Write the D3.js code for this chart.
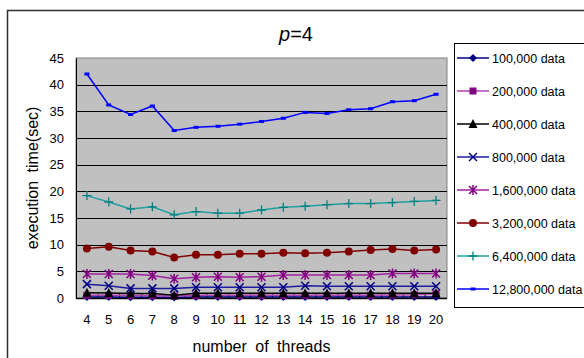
<!DOCTYPE html>
<html>
<head>
<meta charset="utf-8">
<script src="https://cdn.jsdelivr.net/npm/d3@7"></script>
<style>
  body { margin: 0; background: #fff; }
  svg { display: block; font-family: "Liberation Sans", Arial, sans-serif; }
</style>
</head>
<body>
<svg id="chart" width="584" height="358"></svg>
<script>
// thread counts on the x axis
const threads = [4, 5, 6, 7, 8, 9, 10, 11, 12, 13, 14, 15, 16, 17, 18, 19, 20];
const yTicks = [0, 5, 10, 15, 20, 25, 30, 35, 40, 45];

const seriesNames = ["100,000 data", "200,000 data", "400,000 data", "800,000 data",
  "1,600,000 data", "3,200,000 data", "6,400,000 data", "12,800,000 data"];

// execution times (sec)
const d100k = [0.2, 0.2, 0.15, 0.15, 0.1, 0.2, 0.2, 0.2, 0.2, 0.2, 0.2, 0.2, 0.2, 0.2, 0.2, 0.2, 0.2];
const d200k = [0.5, 0.5, 0.45, 0.45, 0.35, 0.5, 0.5, 0.5, 0.5, 0.5, 0.5, 0.5, 0.5, 0.5, 0.55, 0.6, 0.8];
const d400k = [1.0, 0.95, 0.85, 0.85, 0.5, 0.9, 0.9, 0.9, 0.9, 0.9, 0.9, 0.9, 0.9, 0.9, 0.9, 0.9, 0.9];
const d800k = [2.6, 2.3, 1.8, 1.8, 1.8, 2.0, 2.0, 2.0, 2.0, 2.0, 2.3, 2.2, 2.2, 2.2, 2.2, 2.2, 2.2];
const d1600k = [4.5, 4.5, 4.5, 4.2, 3.6, 3.9, 4.0, 3.9, 4.0, 4.3, 4.3, 4.3, 4.3, 4.3, 4.6, 4.6, 4.6];
const d3200k = [9.3, 9.6, 8.9, 8.7, 7.6, 8.1, 8.1, 8.3, 8.3, 8.5, 8.4, 8.5, 8.7, 9.0, 9.2, 8.9, 9.1];
const d6400k = [19.2, 18.0, 16.7, 17.1, 15.6, 16.2, 15.9, 15.9, 16.5, 17.0, 17.2, 17.5, 17.7, 17.7, 17.9, 18.1, 18.3];
const d12800k = [42.0, 36.2, 34.4, 36.0, 31.4, 32.0, 32.2, 32.6, 33.1, 33.7, 34.8, 34.6, 35.3, 35.5, 36.8, 37.0, 38.2];

const allData = [d100k, d200k, d400k, d800k, d1600k, d3200k, d6400k, d12800k];
const lineColors = ["#000080", "#B040B0", "#000000", "#1C1CA0", "#A020A0", "#800000", "#20A0A0", "#0000FF"];
const markColors = ["#000080", "#800080", "#000000", "#000080", "#800080", "#800000", "#008080", "#0000FF"];
const markers = ["diamond", "square", "triangle", "x", "asterisk", "circle", "plus", "smallsquare"];

const svg = d3.select("#chart");
const plot = { left: 76, top: 58, right: 447, bottom: 298 };

// outer frame (only left/top edges fall inside the window)
svg.append("rect")
  .attr("x", 7.5).attr("y", 10.5).attr("width", 620).attr("height", 400)
  .attr("fill", "none").attr("stroke", "#303030").attr("stroke-width", 1.5);

const x = d3.scalePoint().domain(threads).range([plot.left, plot.right]).padding(0.5);
const xBand = d3.scaleBand().domain(threads).range([plot.left, plot.right]);
const y = d3.scaleLinear().domain([0, 45]).range([plot.bottom, plot.top]);

svg.append("rect")
  .attr("x", plot.left).attr("y", plot.top)
  .attr("width", plot.right - plot.left).attr("height", plot.bottom - plot.top)
  .attr("fill", "#C0C0C0").attr("stroke", "#808080").attr("stroke-width", 1);

// gridlines
svg.append("g").selectAll("line")
  .data(yTicks.filter(d => d > 0 && d < 45))
  .join("line")
  .attr("x1", plot.left).attr("x2", plot.right)
  .attr("y1", d => Math.round(y(d)) + 0.5).attr("y2", d => Math.round(y(d)) + 0.5)
  .attr("stroke", "#000").attr("stroke-width", 1);

// y axis
const yAxis = svg.append("g")
  .attr("transform", `translate(${plot.left},0)`)
  .call(d3.axisLeft(y).tickValues(yTicks).tickSize(0).tickPadding(12));
yAxis.select(".domain").attr("stroke", "#000");
yAxis.selectAll("text").attr("font-size", 13).attr("fill", "#000");

// x axis with tick marks at category boundaries
const xAxisG = svg.append("g").attr("transform", `translate(0,${plot.bottom})`);
xAxisG.append("line")
  .attr("x1", plot.left).attr("x2", plot.right).attr("y1", 0.5).attr("y2", 0.5)
  .attr("stroke", "#000").attr("stroke-width", 1.5);
xAxisG.selectAll("line.tk")
  .data(threads.slice(1))
  .join("line").attr("class", "tk")
  .attr("x1", d => xBand(d)).attr("x2", d => xBand(d))
  .attr("y1", -4).attr("y2", 0)
  .attr("stroke", "#000");
xAxisG.selectAll("text")
  .data(threads)
  .join("text")
  .attr("x", d => x(d)).attr("y", 26)
  .attr("text-anchor", "middle").attr("font-size", 13)
  .text(d => d);

// series lines
const line = d3.line().x((d, i) => x(threads[i])).y(d => y(d));

function drawMarker(g, type, color) {
  if (type === "diamond") {
    g.append("path").attr("d", "M0,-4L4,0L0,4L-4,0Z").attr("fill", color);
  } else if (type === "square") {
    g.append("rect").attr("x", -3.5).attr("y", -3.5).attr("width", 7).attr("height", 7).attr("fill", color);
  } else if (type === "smallsquare") {
    g.append("rect").attr("x", -2.5).attr("y", -1.5).attr("width", 5).attr("height", 3).attr("fill", color);
  } else if (type === "triangle") {
    g.append("path").attr("d", "M0,-5L4.5,4L-4.5,4Z").attr("fill", color);
  } else if (type === "x") {
    g.append("path").attr("d", "M-4,-4L4,4M-4,4L4,-4").attr("stroke", color).attr("stroke-width", 1.5);
  } else if (type === "asterisk") {
    g.append("path").attr("d", "M-4,-4L4,4M-4,4L4,-4M0,-5V5").attr("stroke", color).attr("stroke-width", 1.5);
  } else if (type === "circle") {
    g.append("circle").attr("r", 4).attr("fill", color);
  } else if (type === "plus") {
    g.append("path").attr("d", "M-4.5,0H4.5M0,-4.5V4.5").attr("stroke", color).attr("stroke-width", 1.3);
  }
}

allData.forEach((vals, s) => {
  svg.append("path")
    .datum(vals)
    .attr("d", line)
    .attr("fill", "none")
    .attr("stroke", lineColors[s])
    .attr("stroke-width", 1.5);
  svg.append("g").selectAll("g")
    .data(vals)
    .join("g")
    .attr("transform", (d, i) => `translate(${x(threads[i])},${y(d)})`)
    .each(function () { drawMarker(d3.select(this), markers[s], markColors[s]); });
});

// title
svg.append("text")
  .attr("x", 296).attr("y", 41)
  .attr("text-anchor", "middle").attr("font-size", 20)
  .html('<tspan font-style="italic">p</tspan>=4');

// axis labels
svg.append("text")
  .attr("transform", `translate(38,${(plot.top + plot.bottom) / 2}) rotate(-90)`)
  .attr("text-anchor", "middle").attr("font-size", 16)
  .attr("word-spacing", 4)
  .text("execution time(sec)");

svg.append("text")
  .attr("x", (plot.left + plot.right) / 2).attr("y", 352)
  .attr("text-anchor", "middle").attr("font-size", 16)
  .attr("word-spacing", 4)
  .text("number of threads");

// legend
const legend = svg.append("g");
legend.append("rect")
  .attr("x", 454.5).attr("y", 43.5).attr("width", 140).attr("height", 264)
  .attr("fill", "#fff").attr("stroke", "#000");
const items = legend.selectAll("g.item")
  .data(seriesNames)
  .join("g").attr("class", "item")
  .attr("transform", (d, i) => `translate(0,${58 + i * 33})`);
items.append("line")
  .attr("x1", 457).attr("x2", 489).attr("y1", 0).attr("y2", 0)
  .attr("stroke", (d, i) => lineColors[i]).attr("stroke-width", 1.5);
items.each(function (d, i) {
  const g = d3.select(this).append("g").attr("transform", "translate(473,0)");
  drawMarker(g, markers[i], markColors[i]);
});
items.append("text")
  .attr("x", 492).attr("y", 4.5)
  .attr("font-size", 12.5)
  .text(d => d);
</script>
</body>
</html>
